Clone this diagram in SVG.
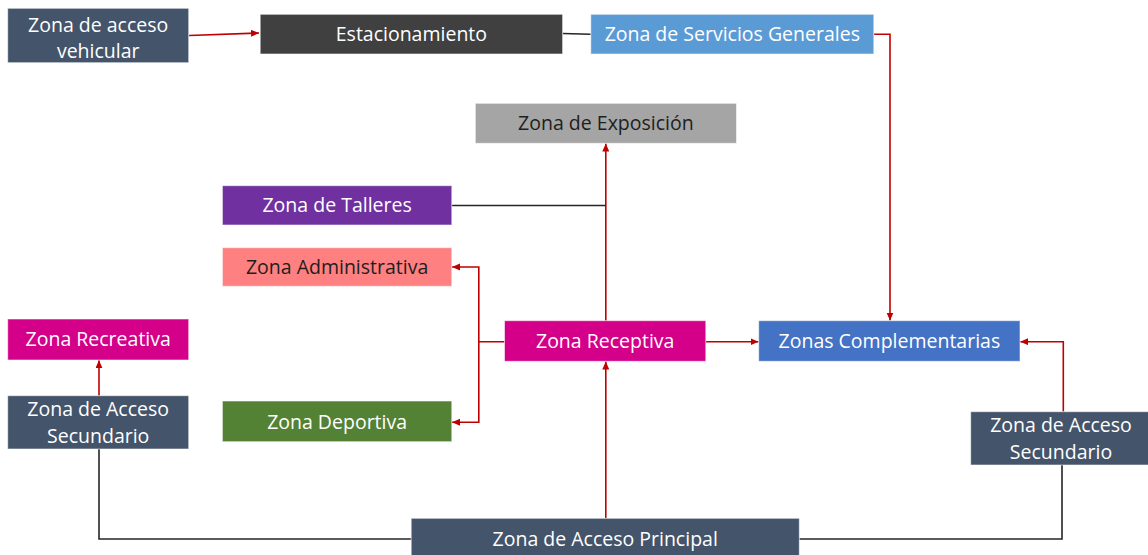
<svg xmlns="http://www.w3.org/2000/svg" width="1148" height="555" viewBox="0 0 1148 555">
<style>
  .box { stroke: #ffffff; stroke-opacity: 0.55; stroke-width: 1; }
  .t { font-family: "Open Sans", "Noto Sans", sans-serif; font-size: 19.5px; fill: #ffffff; text-anchor: middle; }
  .dk { fill: #1e1e1e; }
  .red { fill: none; stroke: #C00000; stroke-width: 1.6; }
  .blk { fill: none; stroke: #262626; stroke-width: 1.6; }
</style>
<defs>
  <marker id="ah" markerUnits="userSpaceOnUse" markerWidth="9" markerHeight="8" refX="8" refY="3.5" orient="auto">
    <path d="M0,0 L8,3.5 L0,7 z" fill="#C00000"/>
  </marker>
</defs>
<rect width="1148" height="555" fill="#ffffff"/>

<g id="connectors">
  <path class="red" d="M189,35.5 L259,33" marker-end="url(#ah)"/>
  <path class="blk" d="M562.6,33.5 L590.8,34.3"/>
  <path class="red" d="M874,34.3 L890,34.3 L890,320.5" marker-end="url(#ah)"/>
  <path class="red" d="M605.8,320.7 L605.8,143.5" marker-end="url(#ah)"/>
  <path class="blk" d="M451.8,205.5 L605.8,205.5"/>
  <path class="red" d="M504.5,341.7 L478.8,341.7 L478.8,267 L452,267" marker-end="url(#ah)"/>
  <path class="red" d="M478.8,341.7 L478.8,422.3 L452,422.3" marker-end="url(#ah)"/>
  <path class="red" d="M705.8,341.7 L758.5,341.7" marker-end="url(#ah)"/>
  <path class="red" d="M605.8,518.3 L605.8,361.5" marker-end="url(#ah)"/>
  <path class="red" d="M99,395.7 L99,360.2" marker-end="url(#ah)"/>
  <path class="blk" d="M411.7,539 L99,539 L99,449"/>
  <path class="blk" d="M799.3,539 L1062,539 L1062,465"/>
  <path class="red" d="M1063.3,411.7 L1063.3,341.7 L1020.2,341.7" marker-end="url(#ah)"/>
</g>

<g id="zona-acceso-vehicular">
  <rect class="box" x="7.7" y="8.3" width="181" height="54.4" fill="#44546A"/>
  <text class="t" x="98.2" y="31.7">Zona de acceso</text>
  <text class="t" x="98.2" y="58.3">vehicular</text>
</g>
<g id="estacionamiento">
  <rect class="box" x="260.2" y="14.3" width="302.4" height="39.7" fill="#404040"/>
  <text class="t" x="411.4" y="40.8">Estacionamiento</text>
</g>
<g id="zona-servicios-generales">
  <rect class="box" x="590.8" y="14.3" width="283" height="39.7" fill="#5B9BD5"/>
  <text class="t" x="732.3" y="41.3">Zona de Servicios Generales</text>
</g>
<g id="zona-exposicion">
  <rect class="box" x="475.3" y="103.3" width="261.2" height="40" fill="#A5A5A5"/>
  <text class="t dk" x="605.9" y="130.3">Zona de Exposición</text>
</g>
<g id="zona-talleres">
  <rect class="box" x="222.4" y="185.7" width="229.4" height="39.3" fill="#7030A0"/>
  <text class="t" x="337.1" y="212.3">Zona de Talleres</text>
</g>
<g id="zona-administrativa">
  <rect class="box" x="222.4" y="247.7" width="229.4" height="38.6" fill="#FF8080"/>
  <text class="t dk" x="337.1" y="273.8">Zona Administrativa</text>
</g>
<g id="zona-receptiva">
  <rect class="box" x="504.5" y="320.7" width="201.3" height="40.6" fill="#D4008A"/>
  <text class="t" x="605.2" y="348.3">Zona Receptiva</text>
</g>
<g id="zonas-complementarias">
  <rect class="box" x="758.7" y="320.7" width="261.3" height="40.6" fill="#4472C4"/>
  <text class="t" x="889.4" y="348.3">Zonas Complementarias</text>
</g>
<g id="zona-recreativa">
  <rect class="box" x="7.7" y="319" width="181" height="41" fill="#D4008A"/>
  <text class="t" x="98.2" y="346.3">Zona Recreativa</text>
</g>
<g id="zona-acceso-secundario-izq">
  <rect class="box" x="7.7" y="395.7" width="181" height="53.3" fill="#44546A"/>
  <text class="t" x="98.2" y="416">Zona de Acceso</text>
  <text class="t" x="98.2" y="443.3">Secundario</text>
</g>
<g id="zona-deportiva">
  <rect class="box" x="222.4" y="401" width="229.4" height="40.7" fill="#548235"/>
  <text class="t" x="337.1" y="428.5">Zona Deportiva</text>
</g>
<g id="zona-acceso-secundario-der">
  <rect class="box" x="970.7" y="411.7" width="181" height="53.3" fill="#44546A"/>
  <text class="t" x="1061" y="431.7">Zona de Acceso</text>
  <text class="t" x="1061" y="459.3">Secundario</text>
</g>
<g id="zona-acceso-principal">
  <rect class="box" x="411.2" y="518.3" width="388.1" height="40" fill="#44546A"/>
  <text class="t" x="605.2" y="545.7">Zona de Acceso Principal</text>
</g>
</svg>
